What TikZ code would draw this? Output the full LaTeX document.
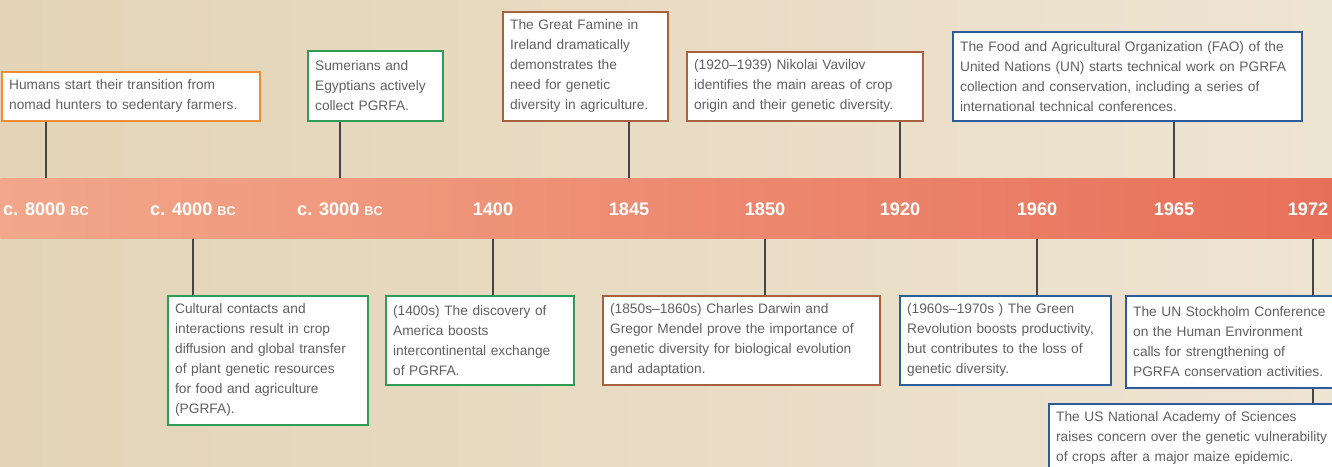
\documentclass[tikz,border=0pt]{standalone}
\usepackage{fontspec}
\setmainfont{Liberation Sans}

\definecolor{bgleft}{HTML}{E3D4B7}
\definecolor{bgright}{HTML}{EEE4D2}
\definecolor{bandleft}{HTML}{F2A78A}
\definecolor{bandright}{HTML}{E8705A}
\definecolor{txtgray}{HTML}{606060}
\definecolor{tickgray}{HTML}{454545}
\definecolor{orangeline}{HTML}{F28C33}
\definecolor{greenline}{HTML}{2E9B57}
\definecolor{brownline}{HTML}{A8613F}
\definecolor{blueline}{HTML}{2C5C9A}

\newcommand{\eraBC}{{\fontsize{9.5}{10}\selectfont BC}}

\tikzset{every picture/.style={line width=0.75pt}}
\tikzset{
  evbox/.style={draw, fill=white, line width=1.2pt, anchor=north west, inner xsep=5.5pt, inner ysep=0pt, align=left, text=txtgray, font=\fontsize{10.3}{15}\selectfont},
  yearlbl/.style={text=white, inner sep=0pt, font=\bfseries\fontsize{13.6}{16}\selectfont},
  tickln/.style={draw=tickgray, line width=0.8pt},
}

\begin{document}
\begin{tikzpicture}[x=0.75pt,y=0.75pt,yscale=-1,xscale=1]
\useasboundingbox (0,0) rectangle (1332,467);
\clip (0,0) rectangle (1332,467);

%Background
\shade [left color=bgleft, right color=bgright] (0,0) rectangle (1332,467);

%Time band
\node (band) [anchor=north west, minimum width=999pt, minimum height=45pt, inner sep=0pt, left color=bandleft, right color=bandright] at (0,178) {};

% Text Node
\node (d8000) [yearlbl] at (46,209) {c. 8000 \eraBC};
% Text Node
\node (d4000) [yearlbl] at (193,209) {c. 4000 \eraBC};
% Text Node
\node (d3000) [yearlbl] at (340,209) {c. 3000 \eraBC};
% Text Node
\node (d1400) [yearlbl] at (493,209) {1400};
% Text Node
\node (d1845) [yearlbl] at (629,209) {1845};
% Text Node
\node (d1850) [yearlbl] at (765,209) {1850};
% Text Node
\node (d1920) [yearlbl] at (900,209) {1920};
% Text Node
\node (d1960) [yearlbl] at (1037,209) {1960};
% Text Node
\node (d1965) [yearlbl] at (1174,209) {1965};
% Text Node
\node (d1972) [yearlbl] at (1308,209) {1972};
\coordinate (t1972) at (1313,209);

% Text Node
\node (hum) [evbox, draw=orangeline, text width=182.5pt, minimum height=36.75pt] at (1,71) {Humans start their transition from\\nomad hunters to sedentary farmers.};
% Text Node
\node (sum) [evbox, draw=greenline, text width=90.25pt, minimum height=52.5pt] at (307,50) {Sumerians and\\Egyptians actively\\collect PGRFA.};
% Text Node
\node (fam) [evbox, draw=brownline, text width=112.75pt, minimum height=81.75pt] at (502,11) {The Great Famine in\\Ireland dramatically\\demonstrates the\\need for genetic\\diversity in agriculture.};
% Text Node
\node (vav) [evbox, draw=brownline, text width=166pt, minimum height=51.75pt] at (686,51) {(1920–1939) Nikolai Vavilov\\identifies the main areas of crop\\origin and their genetic diversity.};
% Text Node
\node (fao) [evbox, draw=blueline, text width=250.75pt, minimum height=66.75pt] at (952,31) {The Food and Agricultural Organization (FAO) of the\\United Nations (UN) starts technical work on PGRFA\\collection and conservation, including a series of\\international technical conferences.};

% Text Node
\node (cult) [evbox, draw=greenline, text width=139pt, minimum height=96.75pt] at (167,295) {Cultural contacts and\\interactions result in crop\\diffusion and global transfer\\of plant genetic resources\\for food and agriculture\\(PGRFA).};
% Text Node
\node (amer) [evbox, draw=greenline, text width=130pt, minimum height=66.75pt] at (385,295) {(1400s) The discovery of\\America boosts\\intercontinental exchange\\of PGRFA.};
% Text Node
\node (darw) [evbox, draw=brownline, text width=196.75pt, minimum height=66.75pt] at (602,295) {(1850s–1860s) Charles Darwin and\\Gregor Mendel prove the importance of\\genetic diversity for biological evolution\\and adaptation.};
% Text Node
\node (grev) [evbox, draw=blueline, text width=147.25pt, minimum height=66.75pt] at (899,295) {(1960s–1970s ) The Green\\Revolution boosts productivity,\\but contributes to the loss of\\genetic diversity.};
% Text Node
\node (stock) [evbox, draw=blueline, text width=161.5pt, minimum height=69pt] at (1125,295) {The UN Stockholm Conference\\on the Human Environment\\calls for strengthening of\\PGRFA conservation activities.};
% Text Node
\node (nas) [evbox, draw=blueline, text width=221.5pt, minimum height=51.75pt] at (1048,403) {The US National Academy of Sciences\\raises concern over the genetic vulnerability\\of crops after a major maize epidemic.};

%Straight Lines
\draw [tickln] (hum.south -| d8000) -- (band.north -| d8000) ;
%Straight Lines
\draw [tickln] (sum.south -| d3000) -- (band.north -| d3000) ;
%Straight Lines
\draw [tickln] (fam.south -| d1845) -- (band.north -| d1845) ;
%Straight Lines
\draw [tickln] (vav.south -| d1920) -- (band.north -| d1920) ;
%Straight Lines
\draw [tickln] (fao.south -| d1965) -- (band.north -| d1965) ;
%Straight Lines
\draw [tickln] (band.south -| d4000) -- (cult.north -| d4000) ;
%Straight Lines
\draw [tickln] (band.south -| d1400) -- (amer.north -| d1400) ;
%Straight Lines
\draw [tickln] (band.south -| d1850) -- (darw.north -| d1850) ;
%Straight Lines
\draw [tickln] (band.south -| d1960) -- (grev.north -| d1960) ;
%Straight Lines
\draw [tickln] (band.south -| t1972) -- (stock.north -| t1972) ;
%Straight Lines
\draw [tickln] (stock.south -| t1972) -- (nas.north -| t1972) ;

\end{tikzpicture}
\end{document}
